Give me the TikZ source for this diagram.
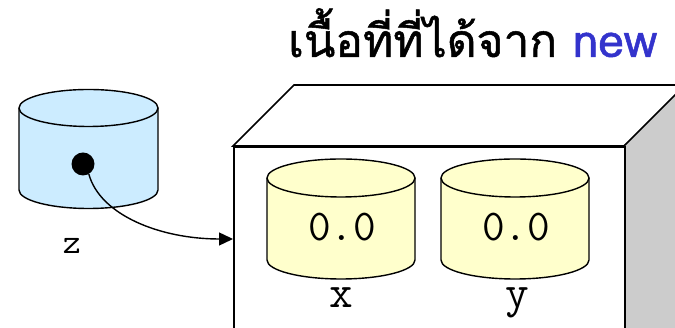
\documentclass[tikz,border=0pt]{standalone}
\usepackage{fontspec}
\newfontfamily\thaifont[Script=Thai,FakeBold=1.1]{Loma}
\usetikzlibrary{arrows.meta}
\definecolor{drumblue}{HTML}{CCECFF}
\definecolor{drumyellow}{HTML}{FFFFCC}
\definecolor{sidegray}{HTML}{CCCCCC}
\definecolor{newblue}{HTML}{3333CC}
% \drawdrum{centre x}{top centre y}{bottom centre y}{x radius}{y radius}{fill}
\newcommand\drawdrum[6]{%
  \fill[#6] (#1-#4,#2) -- (#1-#4,#3)
    arc[start angle=180,end angle=360,x radius=#4,y radius=#5]
    -- (#1+#4,#2) -- cycle;
  \draw[drumline] (#1-#4,#2) -- (#1-#4,#3)
    arc[start angle=180,end angle=360,x radius=#4,y radius=#5]
    -- (#1+#4,#2);
  \draw[drumline,fill=#6] (#1,#2) ellipse[x radius=#4,y radius=#5];
}
\tikzset{
  drumline/.style={line width=1.4pt,black},
  boxline/.style={line width=1.6pt,black,line join=miter},
  value/.style={font=\ttfamily\fontsize{44}{46}\selectfont,inner sep=0pt},
  varname/.style={font=\ttfamily\fontsize{46}{48}\selectfont,inner sep=0pt},
}
\begin{document}
\begin{tikzpicture}[x=1pt,y=1pt]
\useasboundingbox (0,0) rectangle (675,328);
\clip (0,0) rectangle (675,328);
% object block: top face, grey side face, front face
\filldraw[boxline,fill=white] (233,182) -- (294,243) -- (700,243) -- (624,182) -- cycle;
\filldraw[boxline,fill=sidegray] (624,182) -- (685,243) -- (685,-0.5) -- (624,-61.5) -- cycle;
\node[boxline,draw,fill=white,anchor=north west,minimum width=391pt,minimum height=183pt,inner sep=0pt] (front) at (233,182) {};
% fields x and y
\drawdrum{341}{150}{68}{74}{19}{drumyellow}
\drawdrum{515}{150}{68}{74}{19}{drumyellow}
\node[value] (xval) at (342,101) {0.0};
\node[value] (yval) at (516,101) {0.0};
\node[varname,anchor=base] (xname) at (341,20) {x};
\node[varname,anchor=base] (yname) at (517,20) {y};
% reference variable z
\drawdrum{88.5}{220}{138}{69.5}{18.5}{drumblue}
\node[circle,fill=black,minimum size=23pt,inner sep=0pt] (dot) at (83,164) {};
\node[font=\ttfamily\fontsize{35}{37}\selectfont,inner sep=0pt,anchor=base] (zname) at (72,74) {z};
\coordinate (entry) at (233,89);
\draw[line width=1.4pt,-{Triangle[length=14pt,width=13pt]}]
  (dot.-60) .. controls (100,113) and (160,89) .. (entry);
% heading
\node[anchor=base west,inner sep=0pt,font=\thaifont\fontsize{46}{48}\selectfont] (title) at (288,271)
  {เนื้อที่ที่ได้จาก \textcolor{newblue}{new}};
\end{tikzpicture}
\end{document}
